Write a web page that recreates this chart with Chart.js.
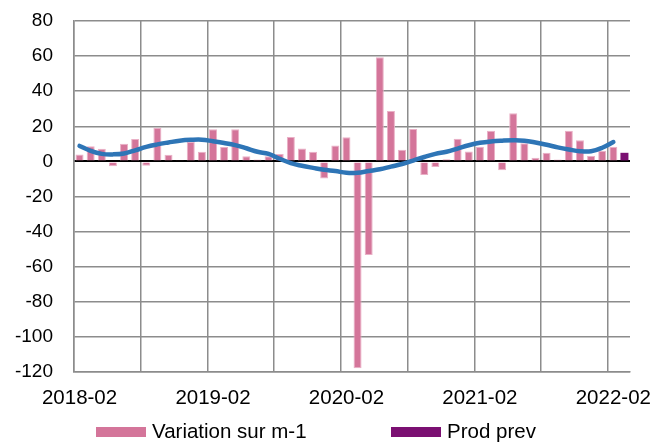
<!DOCTYPE html>
<html>
<head>
<meta charset="utf-8">
<script src="https://cdn.jsdelivr.net/npm/chart.js@4/dist/chart.umd.min.js"></script>
<style>
  body { margin: 0; background: #fff; }
  #wrap { position: relative; width: 656px; height: 442px; }
  #legend { position: absolute; left: 0; top: 420px; width: 656px; height: 22px;
            font: 20.5px "Liberation Sans", Arial, sans-serif; color: #000; }
  .item { position: absolute; top: 0; line-height: 22px; white-space: nowrap; }
  .box { display: inline-block; width: 50px; height: 10px; vertical-align: middle; margin-right: 6px; position: relative; top: -1px; }
</style>
</head>
<body>
<div id="wrap">
  <canvas id="c" width="656" height="442"></canvas>
  <div id="legend">
    <div class="item" style="left:96px"><span class="box" style="background:#D4759A"></span>Variation sur m-1</div>
    <div class="item" style="left:391px"><span class="box" style="background:#7B1072"></span>Prod prev</div>
  </div>
</div>
<script>
const months = [
  '2018-02','2018-03','2018-04','2018-05','2018-06','2018-07','2018-08','2018-09','2018-10','2018-11','2018-12',
  '2019-01','2019-02','2019-03','2019-04','2019-05','2019-06','2019-07','2019-08','2019-09','2019-10','2019-11','2019-12',
  '2020-01','2020-02','2020-03','2020-04','2020-05','2020-06','2020-07','2020-08','2020-09','2020-10','2020-11','2020-12',
  '2021-01','2021-02','2021-03','2021-04','2021-05','2021-06','2021-07','2021-08','2021-09','2021-10','2021-11','2021-12',
  '2022-01','2022-02','2022-03'
]

// variation sur m-1 (bars)
const variation = [
  4, 8.6, 7.2, -2.7, 10, 12.8, -2.5, 19.2, 3.8, 0.3, 11, 5.5,
  18.3, 8.2, 18.3, 2.9, 1.1, 3, 4.2, 13.9, 7.4, 5.5, -9.7, 9.1,
  13.7, -117.9, -53.3, 59.4, 28.7, 6.6, 18.4, -7.8, -3.2, 1.2, 12.9, 5.7,
  8.3, 17.5, -5, 27.4, 10.3, 2.1, 4.9, 1.1, 17.5, 12.1, 3.1, 6, 8.3, null
]

// prod prev (last month only)
const prodPrev = [
  null, null, null, null, null, null, null, null, null, null, null, null,
  null, null, null, null, null, null, null, null, null, null, null, null,
  null, null, null, null, null, null, null, null, null, null, null, null,
  null, null, null, null, null, null, null, null, null, null, null, null, null, 4.9
]

// tendance (smoothed line)
const trend = [
  8.8, 6, 4.3, 4, 4.5, 6.3, 8.3, 9.7, 10.8, 11.8, 12.3, 12.4,
  11.5, 10.5, 9.3, 7.5, 5.5, 4.3, 1.5, -1, -2.5, -3.7, -4.8, -5.5,
  -6.5, -6.5, -5.5, -4.5, -3, -1.5, 0.5, 2.5, 4.3, 5.5, 7.3, 9.2,
  10.6, 11.4, 11.8, 12, 11.8, 10.8, 9.5, 8, 6.8, 5.8, 5.8, 7.8, 11, null
]

const yTicks = [80, 60, 40, 20, 0, -20, -40, -60, -80, -100, -120]

const gridGray = '#8C8C8C'
const family = '"Liberation Sans", Arial, sans-serif'

new Chart('c', {
  type: 'bar',
  data: {
    labels: months,
    datasets: [
      {
        type: 'line',
        label: 'Tendance',
        data: trend,
        borderColor: '#2E75B6',
        borderWidth: 4.5,
        pointRadius: 0,
        tension: 0.4,
        borderCapStyle: 'round',
        spanGaps: false,
        order: 0
      },
      {
        label: 'Variation sur m-1',
        data: variation,
        backgroundColor: '#D4759A',
        borderColor: '#EAB0C6',
        borderWidth: 1,
        barPercentage: 0.72,
        categoryPercentage: 1,
        grouped: false,
        order: 1
      },
      {
        label: 'Prod prev',
        data: prodPrev,
        backgroundColor: '#7B1072',
        borderWidth: 0,
        barPercentage: 0.72,
        categoryPercentage: 1,
        grouped: false,
        order: 1
      }
    ]
  },
  options: {
    responsive: false,
    animation: false,
    layout: { padding: { left: 10, right: 26, top: 21, bottom: 34 } },
    plugins: {
      legend: { display: false },
      tooltip: { enabled: false }
    },
    scales: {
      x: {
        offset: true,
        afterFit: axis => {
          axis.height = 36
          axis.paddingLeft = 0
          axis.paddingRight = 0
        },
        grid: {
          offset: true,
          drawTicks: false,
          lineWidth: 1.5,
          color: ctx => (ctx.index % 6 === 0 ? gridGray : 'rgba(0,0,0,0)')
        },
        border: { display: true, color: gridGray, width: 1.5 },
        ticks: {
          autoSkip: false,
          maxRotation: 0,
          padding: 14,
          color: '#000',
          font: { family: family, size: 20.5 },
          callback: function (val, idx) {
            return idx % 12 === 0 ? this.getLabelForValue(val) : ''
          }
        }
      },
      y: {
        min: -120,
        max: 80,
        afterFit: axis => {
          axis.width = 64
          axis.paddingTop = 0
          axis.paddingBottom = 0
        },
        afterBuildTicks: axis => { axis.ticks = yTicks.map(v => ({ value: v })) },
        grid: {
          drawTicks: false,
          lineWidth: ctx => (ctx.tick && ctx.tick.value === 0 ? 2 : 1.5),
          color: ctx => (ctx.tick && ctx.tick.value === 0 ? '#000' : gridGray)
        },
        border: { display: true, color: gridGray, width: 1.5 },
        ticks: { padding: 21, color: '#000', font: { family: family, size: 19 } }
      }
    }
  }
})
</script>
</body>
</html>
